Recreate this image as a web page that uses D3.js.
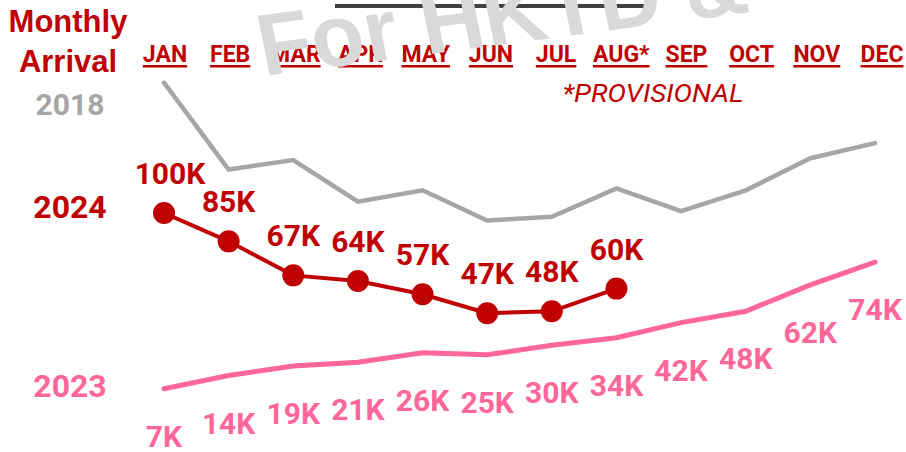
<!DOCTYPE html>
<html>
<head>
<meta charset="utf-8">
<script src="https://cdn.jsdelivr.net/npm/d3@7"></script>
<style>
  html, body { margin: 0; padding: 0; background: #fff; }
  svg { display: block; }
</style>
</head>
<body>
<div id="chart"></div>
<script>
// ---- data ----
const months = ["JAN","FEB","MAR","APR","MAY","JUN","JUL","AUG","SEP","OCT","NOV","DEC"];
const monthLabels = ["JAN","FEB","MAR","APR","MAY","JUN","JUL","AUG*","SEP","OCT","NOV","DEC"];
const values2018 = [169,123,128,106,112,96,98,113,101,112,129,137];
const values2024 = [100,85,67,64,57,47,48,60];
const values2023 = [7,14,19,21,26,25,30,34,42,48,62,74];
const seriesNames = ["2018","2024","2023"];
const unitSuffix = "K";
const titleLines = ["Monthly","Arrival"];
const noteText = "*PROVISIONAL";
const watermarkText = "For HKTD &";

// ---- setup ----
const W = 906, H = 452;
const RED = "#C00000", PINK = "#FF6699", GRAY = "#A6A6A6";

const svg = d3.select("#chart").append("svg")
  .attr("width", W).attr("height", H)
  .attr("viewBox", `0 0 ${W} ${H}`);

const x = d3.scalePoint().domain(months).range([164, 875]);
const xLabel = d3.scalePoint().domain(months).range([165, 882]);
const y = d3.scaleLinear().domain([0, 170]).range([402, 80.7]);

// top title underline (cut off title)
svg.append("rect").attr("x", 335).attr("y", 4).attr("width", 320).attr("height", 4).attr("fill", "#404040");

// left title
svg.append("g").selectAll("text").data(titleLines).join("text")
  .attr("x", 68).attr("y", (d, i) => 32 + i * 40)
  .attr("text-anchor", "middle")
  .attr("font-family", "'Liberation Sans', Arial, sans-serif")
  .attr("font-weight", "bold").attr("font-size", 31)
  .attr("fill", RED).text(d => d);

// month labels with underline
const mg = svg.append("g");
monthLabels.forEach((m, i) => {
  const t = mg.append("text")
    .attr("x", xLabel(months[i])).attr("y", 62)
    .attr("text-anchor", "middle")
    .attr("font-family", "Roboto, sans-serif")
    .attr("font-weight", "bold").attr("font-size", 23)
    .attr("fill", RED).text(m);
  const w = t.node().getComputedTextLength();
  mg.append("rect")
    .attr("x", xLabel(months[i]) - w / 2).attr("y", 65)
    .attr("width", w).attr("height", 2.5).attr("fill", RED);
});

// provisional note
svg.append("text")
  .attr("x", 653).attr("y", 102).attr("text-anchor", "middle")
  .attr("font-family", "Roboto, sans-serif").attr("font-style", "italic")
  .attr("font-size", 25).attr("fill", RED)
  .attr("textLength", 181).attr("lengthAdjust", "spacingAndGlyphs")
  .text(noteText);

// series year labels
const yearStyle = [
  {c: GRAY, y: 115, s: 30},
  {c: RED, y: 218, s: 32},
  {c: PINK, y: 397, s: 32}
];
svg.append("g").selectAll("text").data(seriesNames).join("text")
  .attr("x", 70).attr("y", (d, i) => yearStyle[i].y)
  .attr("text-anchor", "middle")
  .attr("font-family", "Roboto, sans-serif").attr("font-weight", "bold")
  .attr("font-size", (d, i) => yearStyle[i].s)
  .attr("fill", (d, i) => yearStyle[i].c).text(d => d);

const line = d3.line().x((d, i) => x(months[i])).y(d => y(d));

// 2018 line
svg.append("path").datum(values2018).attr("d", line)
  .attr("fill", "none").attr("stroke", GRAY).attr("stroke-width", 4.5)
  .attr("stroke-linejoin", "miter").attr("stroke-linecap", "round");

// 2023 line
svg.append("path").datum(values2023).attr("d", line)
  .attr("fill", "none").attr("stroke", PINK).attr("stroke-width", 5)
  .attr("stroke-linecap", "round");

// 2023 labels
svg.append("g").selectAll("text").data(values2023).join("text")
  .attr("x", (d, i) => x(months[i])).attr("y", d => y(d) + 58)
  .attr("text-anchor", "middle")
  .attr("font-family", "Roboto, sans-serif").attr("font-weight", "bold")
  .attr("font-size", 30).attr("fill", PINK)
  .text(d => d + unitSuffix);

// 2024 line + markers
svg.append("path").datum(values2024).attr("d", line)
  .attr("fill", "none").attr("stroke", RED).attr("stroke-width", 4);
svg.append("g").selectAll("circle").data(values2024).join("circle")
  .attr("cx", (d, i) => x(months[i])).attr("cy", d => y(d))
  .attr("r", 11).attr("fill", RED);

// 2024 labels
svg.append("g").selectAll("text").data(values2024).join("text")
  .attr("x", (d, i) => x(months[i]) + (i === 0 ? 6 : 0)).attr("y", d => y(d) - 29)
  .attr("text-anchor", "middle")
  .attr("font-family", "Roboto, sans-serif").attr("font-weight", "bold")
  .attr("font-size", 30).attr("fill", RED)
  .text(d => d + unitSuffix);

// watermark
svg.append("text")
  .attr("transform", "translate(264,76) rotate(-7.5) skewX(4)")
  .attr("font-family", "'Liberation Sans', Arial, sans-serif")
  .attr("font-weight", "bold").attr("font-size", 88)
  .attr("fill", "#D9D9D9")
  .attr("textLength", 492).attr("lengthAdjust", "spacingAndGlyphs")
  .text(watermarkText);
</script>
</body>
</html>
